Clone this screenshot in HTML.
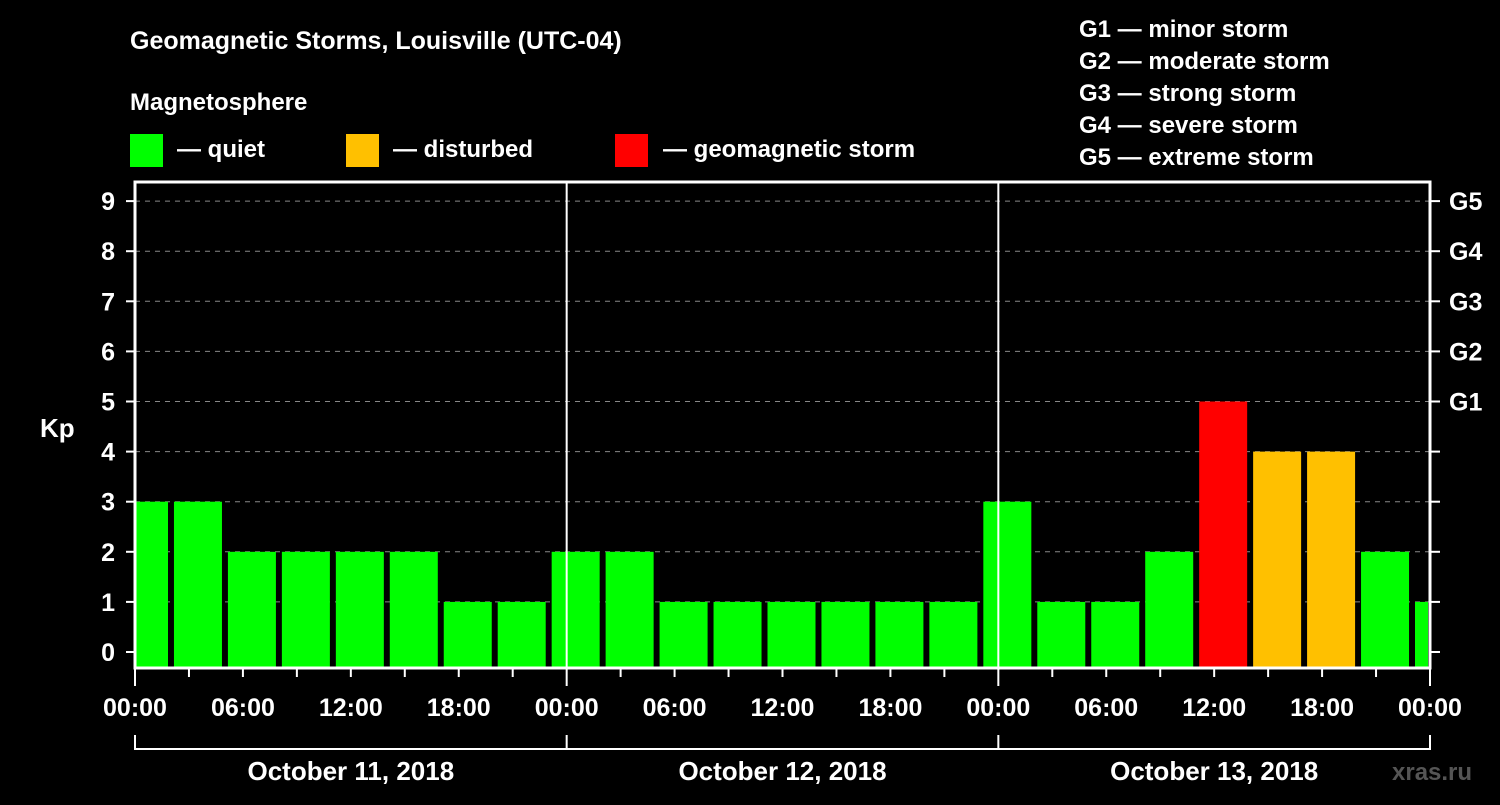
<!DOCTYPE html>
<html><head><meta charset="utf-8"><style>
body{margin:0;background:#000;width:1500px;height:800px;overflow:hidden;font-family:"Liberation Sans",sans-serif}
svg text{font-family:"Liberation Sans",sans-serif;font-weight:bold;fill:#fff}
</style></head><body>
<svg id="c" width="1500" height="800">
<text x="130" y="49" font-size="25">Geomagnetic Storms, Louisville (UTC-04)</text>
<text x="130" y="110" font-size="24">Magnetosphere</text>
<rect x="130" y="134" width="33" height="33" fill="#00ff00"/>
<text x="177" y="157" font-size="24">— quiet</text>
<rect x="346" y="134" width="33" height="33" fill="#ffc000"/>
<text x="393" y="157" font-size="24">— disturbed</text>
<rect x="615" y="134" width="33" height="33" fill="#ff0000"/>
<text x="663" y="157" font-size="24">— geomagnetic storm</text>
<g font-size="24">
<text x="1079" y="37">G1 — minor storm</text>
<text x="1079" y="69">G2 — moderate storm</text>
<text x="1079" y="101">G3 — strong storm</text>
<text x="1079" y="133">G4 — severe storm</text>
<text x="1079" y="165">G5 — extreme storm</text>
</g>
<text x="40" y="437" font-size="26">Kp</text>
<text x="1392" y="780" font-size="24" fill="#666" style="fill:#555">xras.ru</text>
<g id="grid"></g><g id="bars"></g><g id="axes"></g>
</svg>
<script>
const kpValues=[3,3,2,2,2,2,1,1,2,2,1,1,1,1,1,1,3,1,1,2,5,4,4,2,1];
const yTicks=[0,1,2,3,4,5,6,7,8,9];
const gLabels=["G1","G2","G3","G4","G5"];
const xLabels=["00:00","06:00","12:00","18:00"];
const dayLabels=["October 11, 2018","October 12, 2018","October 13, 2018"];
const NS="http://www.w3.org/2000/svg";
const X0=135,X1=1430,Y0=652,PU=50.1,TOP=182,BOT=668,H3=(X1-X0)/24;
const xs=h=>X0+h*H3/3;
const ys=v=>Y0-v*PU;
function mk(p,t,a){const e=document.createElementNS(NS,t);for(const k in a)e.setAttribute(k,a[k]);p.appendChild(e);return e;}
const grid=document.getElementById('grid'),bars=document.getElementById('bars'),ax=document.getElementById('axes');
yTicks.forEach(v=>{if(v>=1){const l=mk(grid,'line',{x1:X0,x2:X1,y1:ys(v),y2:ys(v),stroke:'#888','stroke-dasharray':'5,5','stroke-width':1});

}
const t=mk(ax,'line',{x1:X0-9,x2:X0,y1:ys(v),y2:ys(v),stroke:'#fff','stroke-width':2});


const r=mk(ax,'line',{x1:X1,x2:X1+10,y1:ys(v),y2:ys(v),stroke:'#fff','stroke-width':2});


const tx=mk(ax,'text',{x:X0-20,y:ys(v)+9,'text-anchor':'end','font-size':25});tx.textContent=v;


if(v>=5){const g=mk(ax,'text',{x:1449,y:ys(v)+9,'font-size':25});g.textContent=gLabels[v-5];

}});
kpValues.forEach((v,i)=>{const c=xs(3*i+0.5*3/3*1)+0;const cx=X0+9+i*H3;let x=cx-24,x2=cx+24;x=Math.max(x,X0+1);x2=Math.min(x2,X1-2);
const col=v>=5?'#ff0000':v>=4?'#ffc000':'#00ff00';
const b=mk(bars,'rect',{x:x,y:ys(v),width:x2-x,height:BOT-ys(v),fill:col});

});
[1,2].forEach(d=>{const l=mk(ax,'line',{x1:xs(24*d),x2:xs(24*d),y1:TOP,y2:BOT,stroke:'#fff','stroke-width':2});

});
const fr=mk(ax,'rect',{x:X0,y:TOP,width:X1-X0,height:BOT-TOP,fill:'none',stroke:'#fff','stroke-width':3});


for(let h=0;h<=72;h+=3){const len=h%24===0?18:9;const t=mk(ax,'line',{x1:xs(h),x2:xs(h),y1:BOT,y2:BOT+len,stroke:'#fff','stroke-width':2});


if(h%6===0){const tx=mk(ax,'text',{x:xs(h),y:716,'text-anchor':'middle','font-size':25});tx.textContent=xLabels[(h/6)%4];

}}
const br=mk(ax,'path',{d:`M${X0},735V749H${X1}V735M${xs(24)},735V749M${xs(48)},735V749`,fill:'none',stroke:'#fff','stroke-width':2});


dayLabels.forEach((d,i)=>{const t=mk(ax,'text',{x:xs(24*i+12),y:780,'text-anchor':'middle','font-size':26});t.textContent=d;

});
</script>
</body></html>
